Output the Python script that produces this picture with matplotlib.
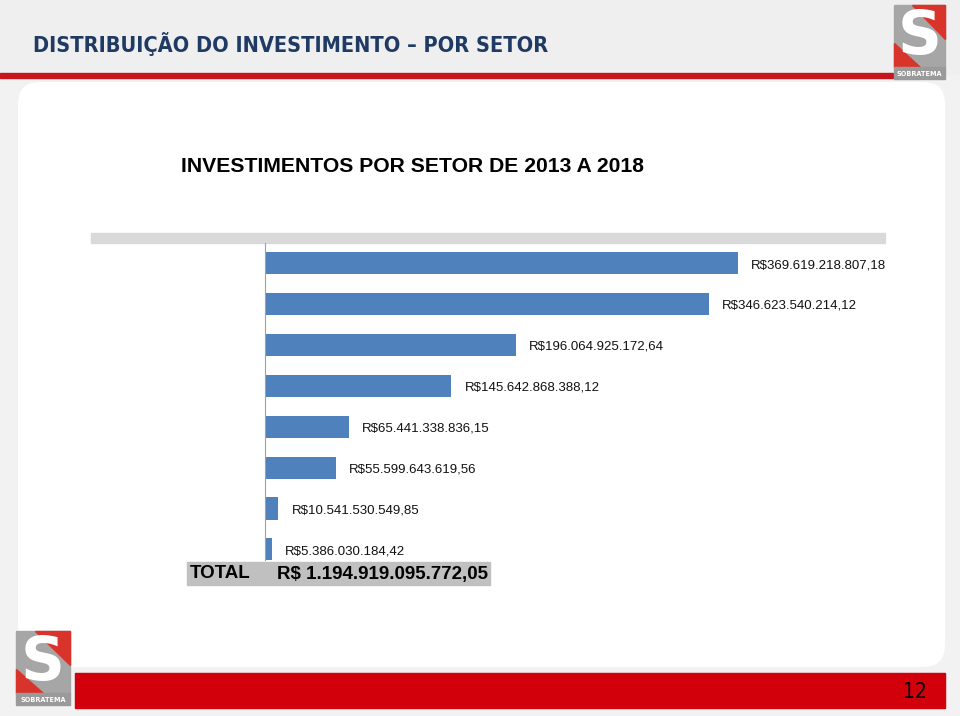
import matplotlib.pyplot as plt
from matplotlib.patches import Rectangle, FancyBboxPatch, Polygon

# valores por setor (R$)
valores = [369619218807.18, 346623540214.12, 196064925172.64, 145642868388.12,
           65441338836.15, 55599643619.56, 10541530549.85, 5386030184.42]
rotulos = ['R$369.619.218.807,18', 'R$346.623.540.214,12', 'R$196.064.925.172,64',
           'R$145.642.868.388,12', 'R$65.441.338.836,15', 'R$55.599.643.619,56',
           'R$10.541.530.549,85', 'R$5.386.030.184,42']
total_txt = 'R$ 1.194.919.095.772,05'

W, H = 960, 716
fig = plt.figure(figsize=(9.6, 7.16), dpi=100, facecolor='#f2f2f2')

# camada de fundo em pixels
bg = fig.add_axes([0, 0, 1, 1])
bg.set_xlim(0, W)
bg.set_ylim(H, 0)
bg.axis('off')

bg.add_patch(Rectangle((0, 0), W, 74, color='#efefef', zorder=0))
bg.add_patch(Rectangle((0, 73), 893, 4.5, color='#c8141c', zorder=1))
bg.add_patch(FancyBboxPatch((22, 86), 919, 577, boxstyle='round,pad=4,rounding_size=22',
                            fc='white', ec='none', zorder=1))
bg.add_patch(Rectangle((75, 673), 870, 35, color='#d2000b', zorder=1))
bg.text(33, 44, 'DISTRIBUIÇÃO DO INVESTIMENTO – POR SETOR', color='#1f3a63',
        fontsize=15.6, fontweight='bold', fontstretch='condensed', va='center', ha='left')
bg.text(927, 692, '12', fontsize=15, color='black', ha='right', va='center',
        fontstretch='condensed')


def logo(x, y, w, h):
    bg.add_patch(Rectangle((x, y), w, h, color='#a6a6a6', zorder=3))
    bg.add_patch(Polygon([(x + w * 0.35, y), (x + w, y), (x + w, y + h * 0.55)],
                         color='#d9342b', zorder=3))
    bg.add_patch(Polygon([(x, y + h * 0.62), (x, y + h), (x + w * 0.5, y + h)],
                         color='#d9342b', zorder=3))
    bg.text(x + w / 2, y + h * 0.52, 'S', color='white', fontsize=44, fontweight='bold',
            ha='center', va='center', zorder=4)
    bg.add_patch(Rectangle((x, y + h), w, 12, color='#9a9a9a', zorder=3))
    bg.text(x + w / 2, y + h + 6.5, 'SOBRATEMA', color='white', fontsize=5.2,
            fontweight='bold', fontstretch='condensed', ha='center', va='center', zorder=4)


logo(894, 5, 51, 62)
logo(16, 631, 54, 62)

bg.text(181, 166, 'INVESTIMENTOS POR SETOR DE 2013 A 2018', fontsize=15.2,
        fontweight='bold', ha='left', va='center', color='black',
        family=['Liberation Sans', 'DejaVu Sans'])

# faixa cinza acima do gráfico
bg.add_patch(Rectangle((91, 233), 794, 10, color='#d9d9d9', zorder=2))

# caixa do total
bg.add_patch(Rectangle((187, 562), 303, 23, color='#c0c0c0', zorder=5))
bg.text(190, 574, 'TOTAL', fontsize=13.5, fontweight='bold', ha='left', va='center',
        zorder=6, family=['Liberation Sans', 'DejaVu Sans'])
bg.text(277, 574, total_txt, fontsize=13.5, fontweight='bold', ha='left', va='center',
        zorder=6, family=['Liberation Sans', 'DejaVu Sans'])

# gráfico de barras
left, right, top, bottom = 265, 885, 243, 560
ax = fig.add_axes([left / W, 1 - bottom / H, (right - left) / W, (bottom - top) / H])
ax.patch.set_alpha(0)
escala = 473 / valores[0]  # px por real
ax.set_xlim(0, (right - left) / escala)
ax.set_ylim(7.26, -0.49)
pos = list(range(len(valores)))
ax.barh(pos, valores, height=0.54, color='#4f81bd')
for p, v, r in zip(pos, valores, rotulos):
    ax.text(v + 13 / escala, p + 0.05, r, fontsize=9.5, ha='left', va='center',
            color='#111111', family=['Liberation Sans', 'DejaVu Sans'])
for s in ['top', 'right', 'bottom']:
    ax.spines[s].set_visible(False)
ax.spines['left'].set_color('#a0a0a0')
ax.spines['left'].set_linewidth(0.8)
ax.set_xticks([])
ax.set_yticks([])

fig.savefig('out.png', dpi=100, facecolor=fig.get_facecolor())
